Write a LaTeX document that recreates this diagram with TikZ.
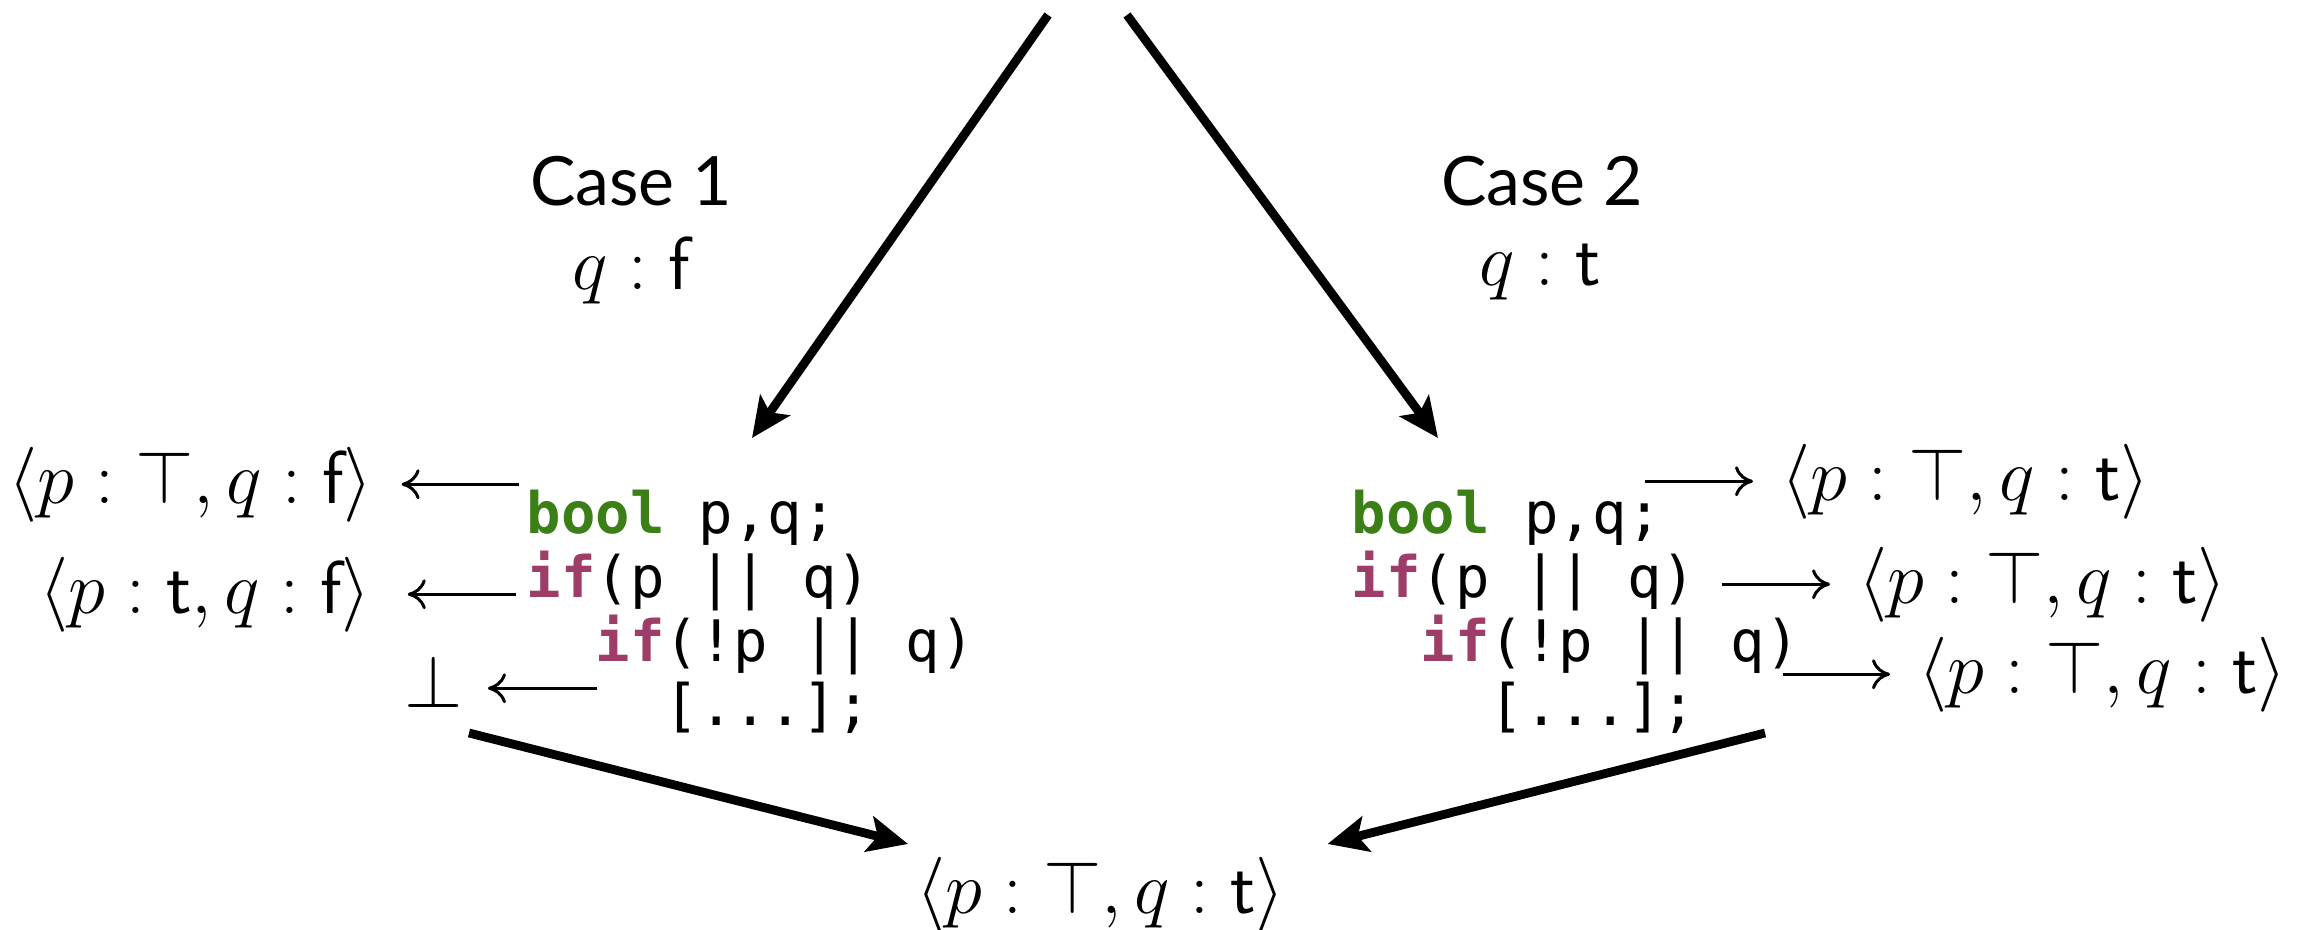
\RequirePackage{fix-cm}
\documentclass[tikz,border=0pt]{standalone}
\usepackage{fontspec}
\newfontfamily\casefont{Lato}
\newfontfamily\codefont{DejaVu Sans Mono}
\usetikzlibrary{arrows.meta}

\definecolor{kwgreen}{RGB}{58,128,22}
\definecolor{kwred}{RGB}{158,62,104}
\newcommand{\kwg}[1]{{\bfseries\color{kwgreen}#1}}
\newcommand{\kwr}[1]{{\bfseries\color{kwred}#1}}

\tikzset{
  mathlbl/.style={inner sep=0pt, anchor=base west, font=\fontsize{18.75}{22}\selectfont},
  caselbl/.style={inner sep=0pt, anchor=base, font=\casefont\fontsize{17}{20}\selectfont},
  codeline/.style={inner sep=0pt, anchor=base west, font=\codefont\fontsize{14.3}{16}\selectfont},
  bigarrow/.style={line width=2.2pt, -{Stealth[length=10pt,width=9pt,inset=2.2pt]}},
  thinarrow/.style={line width=0.75pt, -{Computer Modern Rightarrow[length=4.5pt,width=7.5pt]}},
}

\begin{document}
\begin{tikzpicture}[x=0.25pt,y=-0.25pt]
  \fill[white] (0,0) rectangle (2312,930);
  \useasboundingbox (0,0) rectangle (2312,930);

  % case headings
  \node[caselbl] (case1) at (631,206) {Case 1};
  \node[caselbl, font=\fontsize{18.75}{22}\selectfont] (qf) at (631,290) {$q:\mathsf{f}$};
  \node[caselbl] (case2) at (1542,206) {Case 2};
  \node[caselbl, font=\fontsize{18.75}{22}\selectfont] (qt) at (1540,285) {$q:\mathsf{t}$};

  % program, case 1
  \node[codeline] (c1a) at (526,533) {\kwg{bool} p,q;};
  \node[codeline] (c1b) at (526,597) {\kwr{if}(p || q)};
  \node[codeline] (c1c) at (595,661) {\kwr{if}(!p || q)};
  \node[codeline] (c1d) at (664,725) {[...];};

  % program, case 2
  \node[codeline] (c2a) at (1351,533) {\kwg{bool} p,q;};
  \node[codeline] (c2b) at (1351,597) {\kwr{if}(p || q)};
  \node[codeline] (c2c) at (1420,661) {\kwr{if}(!p || q)};
  \node[codeline] (c2d) at (1489,725) {[...];};

  % abstract states, case 1
  \node[mathlbl] (L1) at (8,503) {$\langle p:\top,q:\mathsf{f}\rangle$};
  \node[mathlbl] (L2) at (39,613) {$\langle p:\mathsf{t},q:\mathsf{f}\rangle$};
  \node[mathlbl] (L3) at (404,707) {$\vphantom{\langle}\bot$};

  % abstract states, case 2
  \node[mathlbl] (R1) at (1781,500) {$\langle p:\top,q:\mathsf{t}\rangle$};
  \node[mathlbl] (R2) at (1858,603) {$\langle p:\top,q:\mathsf{t}\rangle$};
  \node[mathlbl] (R3) at (1918,693) {$\langle p:\top,q:\mathsf{t}\rangle$};

  % joined state
  \node[mathlbl] (B) at (916,913) {$\langle p:\top,q:\mathsf{t}\rangle$};

  % tails of the state arrows
  \coordinate (la1) at (519,0);
  \coordinate (la2) at (516,0);
  \coordinate (la3) at (597,0);
  \coordinate (ra1) at (1645,0);
  \coordinate (ra2) at (1722,0);
  \coordinate (ra3) at (1783,0);

  \draw[thinarrow] (la1 |- L1.east) -- ([xshift=7pt]L1.east);
  \draw[thinarrow] (la2 |- L2.east) -- ([xshift=9pt]L2.east);
  \draw[thinarrow] (la3 |- L3.east) -- ([xshift=6pt]L3.east);
  \draw[thinarrow] (ra1 |- R1.west) -- ([xshift=-7pt]R1.west);
  \draw[thinarrow] (ra2 |- R2.west) -- ([xshift=-7pt]R2.west);
  \draw[thinarrow] (ra3 |- R3.west) -- ([xshift=-7pt]R3.west);

  % split and join arrows
  \coordinate (top1) at (1048,15);
  \coordinate (top2) at (1127,15);
  \coordinate (in1) at (752,438);
  \coordinate (in2) at (1438,438);
  \coordinate (out1) at (469,733);
  \coordinate (out2) at (1765,733);

  \draw[bigarrow] (top1) -- (in1);
  \draw[bigarrow] (top2) -- (in2);
  \draw[bigarrow] (out1) -- ([shift={(-8,-12)}]B.north west);
  \draw[bigarrow] (out2) -- ([shift={(42,-12)}]B.north east);
\end{tikzpicture}
\end{document}
